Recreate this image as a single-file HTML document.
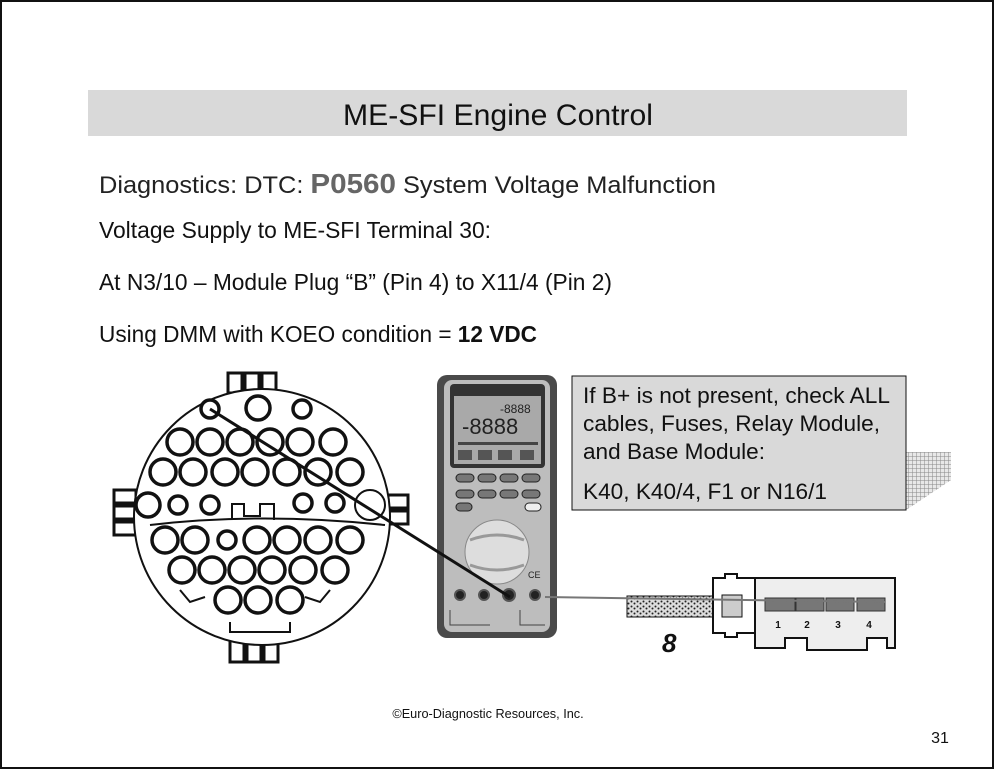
<!DOCTYPE html>
<html><head><meta charset="utf-8"><style>
html,body{margin:0;padding:0;background:#fff}
svg{display:block}
text{font-family:"Liberation Sans",Arial,sans-serif}
</style></head><body>
<svg width="995" height="770" viewBox="0 0 995 770" xmlns="http://www.w3.org/2000/svg">
<defs>
<pattern id="hatch" width="4" height="4" patternUnits="userSpaceOnUse">
<rect width="4" height="4" fill="#e8e8e8"/><path d="M0 0H4M0 0V4" stroke="#888" stroke-width="1"/>
</pattern>
<pattern id="speck" width="6" height="5" patternUnits="userSpaceOnUse">
<rect width="6" height="5" fill="#ddd"/><circle cx="1.5" cy="1.5" r="1" fill="#222"/><circle cx="4.5" cy="3.5" r="1" fill="#222"/>
</pattern>
</defs>
<rect x="1" y="1" width="992" height="767" fill="#fff" stroke="#111" stroke-width="2"/>
<rect x="88" y="90" width="819" height="46" fill="#d9d9d9"/>
<text x="498" y="125" font-size="30" text-anchor="middle" fill="#111" textLength="310" lengthAdjust="spacingAndGlyphs">ME-SFI Engine Control</text>
<text x="99" y="193" font-size="24" fill="#222" textLength="617" lengthAdjust="spacingAndGlyphs">Diagnostics: DTC: <tspan font-weight="bold" font-size="28" fill="#666">P0560</tspan> System Voltage Malfunction</text>
<text x="99" y="238" font-size="23" fill="#111" textLength="392" lengthAdjust="spacingAndGlyphs">Voltage Supply to ME-SFI Terminal 30:</text>
<text x="99" y="290" font-size="23" fill="#111" textLength="513" lengthAdjust="spacingAndGlyphs">At N3/10 – Module Plug “B” (Pin 4) to X11/4 (Pin 2)</text>
<text x="99" y="342" font-size="23" fill="#111" textLength="438" lengthAdjust="spacingAndGlyphs">Using DMM with KOEO condition = <tspan font-weight="bold">12 VDC</tspan></text>

<!-- round connector -->
<g stroke="#111" stroke-width="3" fill="none">
<rect x="228" y="373" width="14" height="20"/><rect x="245" y="373" width="14" height="20"/><rect x="262" y="373" width="14" height="20"/>
<rect x="230" y="640" width="14" height="22"/><rect x="247" y="640" width="14" height="22"/><rect x="264" y="640" width="14" height="22"/>
<rect x="114" y="490" width="22" height="13"/><rect x="114" y="506" width="22" height="13"/><rect x="114" y="522" width="22" height="13"/>
<rect x="388" y="495" width="20" height="13"/><rect x="388" y="511" width="20" height="13"/>
<circle cx="262" cy="517" r="128" fill="#fff" stroke-width="2"/>
<path d="M150 525 Q262 512 385 525" stroke-width="2"/>
<path d="M232 520 v-16 h12 v12 h16 v-12 h14 v16" stroke-width="2"/>
<g stroke-width="3.5" fill="#fff">
<circle cx="210" cy="409" r="9"/><circle cx="258" cy="408" r="12"/><circle cx="302" cy="409" r="9"/>
<circle cx="180" cy="442" r="13"/><circle cx="210" cy="442" r="13"/><circle cx="240" cy="442" r="13"/><circle cx="270" cy="442" r="13"/><circle cx="300" cy="442" r="13"/><circle cx="333" cy="442" r="13"/>
<circle cx="163" cy="472" r="13"/><circle cx="193" cy="472" r="13"/><circle cx="225" cy="472" r="13"/><circle cx="255" cy="472" r="13"/><circle cx="287" cy="472" r="13"/><circle cx="318" cy="472" r="13"/><circle cx="350" cy="472" r="13"/>
<circle cx="148" cy="505" r="12"/><circle cx="178" cy="505" r="9"/><circle cx="210" cy="505" r="9"/><circle cx="303" cy="503" r="9"/><circle cx="335" cy="503" r="9"/><circle cx="370" cy="505" r="15" stroke-width="2"/>
<circle cx="165" cy="540" r="13"/><circle cx="195" cy="540" r="13"/><circle cx="227" cy="540" r="9"/><circle cx="257" cy="540" r="13"/><circle cx="287" cy="540" r="13"/><circle cx="318" cy="540" r="13"/><circle cx="350" cy="540" r="13"/>
<circle cx="182" cy="570" r="13"/><circle cx="212" cy="570" r="13"/><circle cx="242" cy="570" r="13"/><circle cx="272" cy="570" r="13"/><circle cx="303" cy="570" r="13"/><circle cx="335" cy="570" r="13"/>
<circle cx="228" cy="600" r="13"/><circle cx="258" cy="600" r="13"/><circle cx="290" cy="600" r="13"/>
</g>
<path d="M180 590 l10 12 l15 -5 M330 590 l-10 12 l-15 -5 M230 622 v10 h60 v-10" stroke-width="2"/>
</g>

<!-- multimeter -->
<rect x="437" y="375" width="120" height="263" rx="10" fill="#4a4a4a"/>
<rect x="444" y="380" width="106" height="252" rx="8" fill="#bdbdbd"/>
<rect x="450" y="384" width="95" height="84" rx="4" fill="#333"/>
<rect x="454" y="396" width="87" height="68" fill="#a9a9a9"/>
<text x="462" y="434" font-size="22" fill="#222" font-family="Liberation Mono,monospace">-8888</text>
<text x="500" y="413" font-size="12" fill="#222" font-family="Liberation Mono,monospace">-8888</text>
<rect x="458" y="442" width="80" height="3" fill="#444"/>
<rect x="458" y="450" width="14" height="10" fill="#555"/><rect x="478" y="450" width="14" height="10" fill="#555"/><rect x="498" y="450" width="14" height="10" fill="#555"/><rect x="520" y="450" width="14" height="10" fill="#555"/>
<g fill="#777" stroke="#222">
<rect x="456" y="474" width="18" height="8" rx="4"/><rect x="478" y="474" width="18" height="8" rx="4"/><rect x="500" y="474" width="18" height="8" rx="4"/><rect x="522" y="474" width="18" height="8" rx="4"/>
<rect x="456" y="490" width="18" height="8" rx="4"/><rect x="478" y="490" width="18" height="8" rx="4"/><rect x="500" y="490" width="18" height="8" rx="4"/><rect x="522" y="490" width="18" height="8" rx="4"/>
<rect x="456" y="503" width="16" height="8" rx="4"/><rect x="525" y="503" width="16" height="8" rx="4" fill="#eee"/>
</g>
<circle cx="497" cy="552" r="32" fill="#ddd" stroke="#888"/>
<path d="M470 540 Q497 530 524 540 M470 565 Q497 575 524 565" stroke="#999" stroke-width="3" fill="none"/>
<text x="528" y="578" font-size="9" fill="#222">CE</text>
<g fill="#222" stroke="#555" stroke-width="2">
<circle cx="460" cy="595" r="5"/><circle cx="484" cy="595" r="5"/><circle cx="509" cy="595" r="6"/><circle cx="535" cy="595" r="5"/>
</g>
<path d="M450 610 v15 h40 M520 610 v15 h25" stroke="#444" fill="none"/>

<line x1="210" y1="409" x2="510" y2="597" stroke="#111" stroke-width="3"/>

<!-- info box -->
<polygon points="906,452 951,452 951,480 906,510" fill="url(#hatch)"/>
<rect x="572" y="376" width="334" height="134" fill="#d9d9d9" stroke="#111" stroke-width="1"/>
<text x="583" y="403" font-size="22.5" fill="#111" textLength="307" lengthAdjust="spacingAndGlyphs">If B+ is not present, check ALL</text>
<text x="583" y="431" font-size="22.5" fill="#111" textLength="297" lengthAdjust="spacingAndGlyphs">cables, Fuses, Relay Module,</text>
<text x="583" y="459" font-size="22.5" fill="#111" textLength="182" lengthAdjust="spacingAndGlyphs">and Base Module:</text>
<text x="583" y="499" font-size="22.5" fill="#111" textLength="244" lengthAdjust="spacingAndGlyphs">K40, K40/4, F1 or N16/1</text>

<!-- plug -->
<rect x="627" y="596" width="87" height="21" fill="url(#speck)" stroke="#111"/>
<path d="M713 578 h12 v-4 h12 v4 h18 v55 h-18 v4 h-12 v-4 h-12 z" fill="#fff" stroke="#111" stroke-width="2"/>
<rect x="722" y="595" width="20" height="22" fill="#ccc" stroke="#111"/>
<path d="M755 578 h140 v70 h-8 v-10 h-20 v12 h-60 v-12 h-22 v10 h-8 h-22 z" fill="#eee" stroke="#111" stroke-width="2"/>
<g fill="#777" stroke="#333">
<rect x="765" y="598" width="30" height="13"/><rect x="796" y="598" width="28" height="13"/><rect x="826" y="598" width="28" height="13"/><rect x="857" y="598" width="28" height="13"/>
</g>
<g font-size="10" font-weight="bold" fill="#111" text-anchor="middle"><text x="778" y="628">1</text><text x="807" y="628">2</text><text x="838" y="628">3</text><text x="869" y="628">4</text></g>
<line x1="545" y1="597" x2="885" y2="602" stroke="#777" stroke-width="2"/>
<text x="662" y="652" font-size="26" font-weight="bold" font-style="italic" fill="#111">8</text>

<text x="488" y="718" font-size="12.7" text-anchor="middle" fill="#111">©Euro-Diagnostic Resources, Inc.</text>
<text x="940" y="743" font-size="16" text-anchor="middle" fill="#111">31</text>
</svg>
</body></html>
